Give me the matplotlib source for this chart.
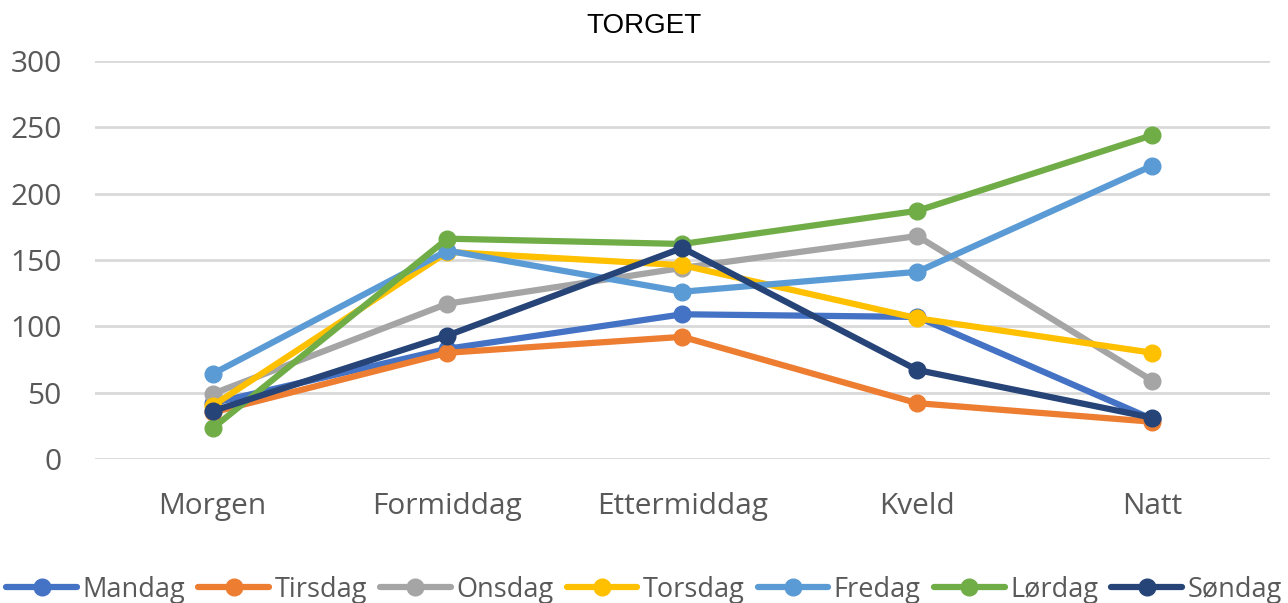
import matplotlib.pyplot as plt

# time-of-day categories and counts for each weekday
periods = ['Morgen', 'Formiddag', 'Ettermiddag', 'Kveld', 'Natt']
mandag = [42, 83, 109, 107, 30]
tirsdag = [35, 80, 92, 42, 28]
onsdag = [49, 117, 144, 168, 59]
torsdag = [40, 156, 146, 106, 80]
fredag = [64, 157, 126, 141, 221]
lordag = [23, 166, 162, 187, 244]
sondag = [36, 93, 159, 67, 31]

series = [
    ('Mandag', mandag, '#4472C4'),
    ('Tirsdag', tirsdag, '#ED7D31'),
    ('Onsdag', onsdag, '#A5A5A5'),
    ('Torsdag', torsdag, '#FFC000'),
    ('Fredag', fredag, '#5B9BD5'),
    ('Lørdag', lordag, '#70AD47'),
    ('Søndag', sondag, '#264478'),
]

plt.rcParams['font.family'] = ['Open Sans', 'DejaVu Sans']

fig = plt.figure(figsize=(12.88, 6.03), dpi=100)
ax = fig.add_axes([0.0738, 0.239, 0.912, 0.660])

xs = list(range(len(periods)))
for name, vals, col in series:
    ax.plot(xs, vals, color=col, lw=4.5, marker='o', ms=12,
            solid_capstyle='round', solid_joinstyle='round', label=name)

ax.set_xlim(-0.5, len(periods) - 0.5)
ax.set_ylim(0, 300)
ax.set_yticks(range(0, 301, 50))
ax.set_xticks(xs)
ax.set_xticklabels(periods)
ax.tick_params(axis='both', length=0, labelsize=21.5, labelcolor='#595959')
ax.tick_params(axis='y', pad=24)
ax.tick_params(axis='x', pad=24)
ax.grid(axis='y', color='#D9D9D9', lw=2)
ax.set_axisbelow(True)
for s in ax.spines.values():
    s.set_visible(False)

fig.text(0.5, 0.957, 'TORGET', ha='center', va='center', fontsize=20,
         family='Liberation Sans', color='black')

fig.legend(loc='center', bbox_to_anchor=(0.5, 0.022), ncol=7, frameon=False,
           fontsize=19.5, handlelength=2.6, handletextpad=0.2,
           columnspacing=0.5, labelcolor='#595959', borderaxespad=0)

fig.savefig('out.png', dpi=100)
